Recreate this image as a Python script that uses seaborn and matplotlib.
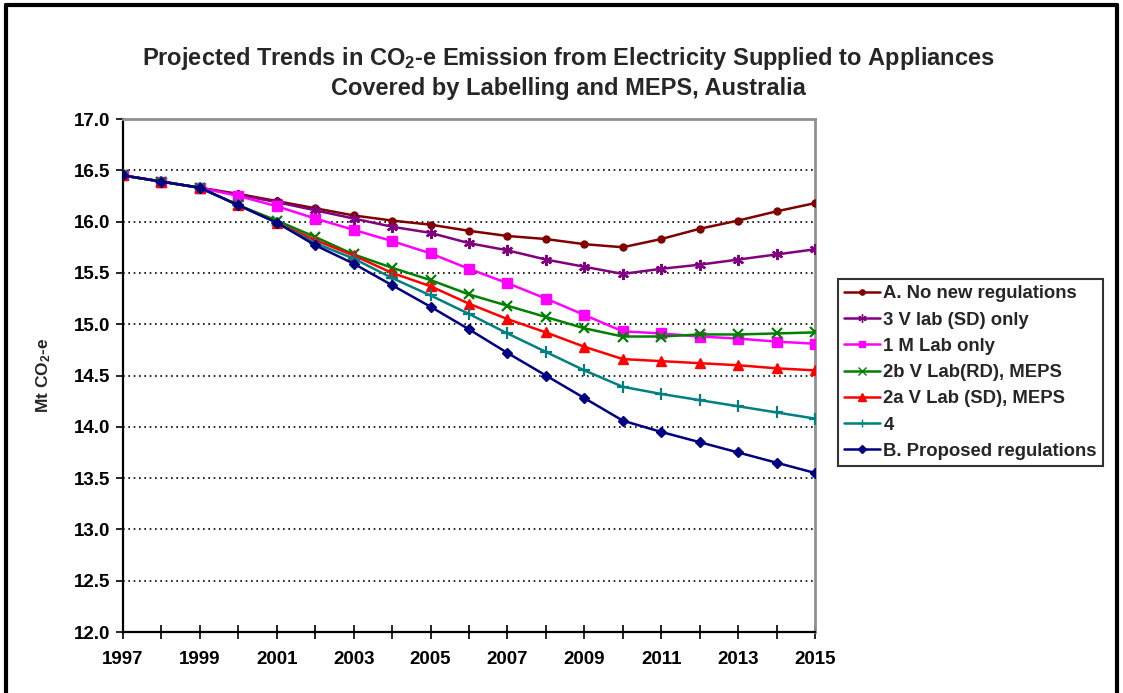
import matplotlib
matplotlib.use("Agg")
import matplotlib.pyplot as plt
from matplotlib.lines import Line2D
import seaborn as sns
import pandas as pd

# Projected emissions, Mt CO2-e, 1997-2015
years = list(range(1997, 2016))

no_new_regs = [16.45, 16.39, 16.33, 16.27, 16.20, 16.13, 16.06, 16.01, 15.97, 15.91,
               15.86, 15.83, 15.78, 15.75, 15.83, 15.93, 16.01, 16.10, 16.18]
v_lab_sd_only = [16.45, 16.39, 16.33, 16.26, 16.19, 16.11, 16.03, 15.95, 15.89, 15.79,
                 15.72, 15.63, 15.56, 15.49, 15.54, 15.58, 15.63, 15.68, 15.73]
m_lab_only = [16.45, 16.39, 16.33, 16.25, 16.15, 16.03, 15.92, 15.81, 15.69, 15.54,
              15.40, 15.25, 15.09, 14.93, 14.91, 14.88, 14.86, 14.83, 14.81]
v_lab_rd_meps = [16.45, 16.39, 16.33, 16.16, 16.01, 15.85, 15.68, 15.55, 15.43, 15.29,
                 15.18, 15.07, 14.96, 14.88, 14.88, 14.90, 14.90, 14.91, 14.92]
v_lab_sd_meps = [16.45, 16.39, 16.33, 16.16, 15.99, 15.82, 15.67, 15.50, 15.37, 15.20,
                 15.05, 14.92, 14.78, 14.66, 14.64, 14.62, 14.60, 14.57, 14.55]
scenario_4 = [16.45, 16.39, 16.33, 16.16, 15.99, 15.79, 15.64, 15.45, 15.28, 15.10,
              14.91, 14.73, 14.55, 14.39, 14.32, 14.26, 14.20, 14.14, 14.08]
proposed_regs = [16.45, 16.39, 16.33, 16.16, 15.99, 15.77, 15.59, 15.38, 15.17, 14.95,
                 14.72, 14.50, 14.28, 14.06, 13.95, 13.85, 13.75, 13.65, 13.55]

series_names = ["A. No new regulations", "3 V lab (SD) only", "1 M Lab only",
                "2b V Lab(RD), MEPS", "2a V Lab (SD), MEPS", "4",
                "B. Proposed regulations"]
series_values = [no_new_regs, v_lab_sd_only, m_lab_only, v_lab_rd_meps,
                 v_lab_sd_meps, scenario_4, proposed_regs]

y_ticks = [12.0, 12.5, 13.0, 13.5, 14.0, 14.5, 15.0, 15.5, 16.0, 16.5, 17.0]

colors = ["#800000", "#800080", "#FF00FF", "#008000", "#FF0000", "#008080", "#000080"]
markers = ["o", (6, 2, 0), "s", "x", "^", "+", "D"]
msizes = [5, 8, 6.5, 7, 7, 8, 5.5]

sns.set_style("white")
plt.rcParams["font.family"] = ["Liberation Sans", "DejaVu Sans"]
plt.rcParams["font.weight"] = "bold"
plt.rcParams["mathtext.default"] = "regular"

fig = plt.figure(figsize=(11.23, 6.93), dpi=100)
ax = fig.add_axes([123 / 1123, 1 - 632 / 693, (815 - 123) / 1123, (632 - 119) / 693])

df = pd.DataFrame({"year": years})
for name, vals in zip(series_names, series_values):
    df[name] = vals

handles = []
for name, col, mk, ms in zip(series_names, colors, markers, msizes):
    sns.lineplot(data=df, x="year", y=name, ax=ax, color=col, linewidth=1.8,
                 marker=mk, markersize=ms, markeredgecolor=col, markerfacecolor=col,
                 markeredgewidth=1.6 if mk in ("x", "+", (6, 2, 0)) else 1.0,
                 zorder=3)
    handles.append(Line2D([0], [0], color=col, lw=1.8, marker=mk,
                          markersize=ms * 0.75, markeredgecolor=col,
                          markerfacecolor=col, label=name))

ax.set_xlim(1997, 2015)
ax.set_ylim(12.0, 17.0)
ax.set_xticks(years)
ax.set_xticklabels([str(y) if (y - 1997) % 2 == 0 else "" for y in years])
ax.set_yticks(y_ticks)
ax.set_yticklabels([f"{v:.1f}" for v in y_ticks])
ax.set_xlabel("")
ax.set_ylabel("Mt CO$_2$-e", fontsize=12.5, fontweight="bold")
ax.yaxis.set_label_coords((53 - 123) / 692, 0.5)

ax.tick_params(axis="x", direction="inout", length=10, width=1.2, colors="black",
               labelsize=13.5, pad=9, bottom=True)
ax.tick_params(axis="y", direction="out", length=5, width=1.2, colors="black",
               labelsize=13.5, pad=4, left=True)
for lab in ax.get_xticklabels() + ax.get_yticklabels():
    lab.set_fontweight("bold")

ax.yaxis.grid(True, linestyle=(0, (1, 2.2)), color="black", linewidth=1.2, zorder=0)
ax.xaxis.grid(False)
ax.set_axisbelow(True)

ax.spines["left"].set_color("black")
ax.spines["left"].set_linewidth(1.6)
ax.spines["bottom"].set_color("black")
ax.spines["bottom"].set_linewidth(1.6)
for s in ("top", "right"):
    ax.spines[s].set_visible(True)
    ax.spines[s].set_color("#909090")
    ax.spines[s].set_linewidth(2.0)

title_x = 0.5 * (140 + 997) / 1123
fig.text(title_x, 1 - 58 / 693,
         "Projected Trends in CO$_2$-e Emission from Electricity Supplied to Appliances",
         ha="center", va="center", fontsize=17, fontweight="bold")
fig.text(title_x, 1 - 89 / 693,
         "Covered by Labelling and MEPS, Australia",
         ha="center", va="center", fontsize=17, fontweight="bold")

leg = fig.legend(handles=handles, loc="upper left",
                 bbox_to_anchor=(838 / 1123, 1 - 279 / 693),
                 frameon=True, fancybox=False, shadow=False,
                 handlelength=1.9, handletextpad=0.2, labelspacing=0.5,
                 borderpad=0.35, borderaxespad=0.0, prop={"weight": "bold", "size": 13.3})
leg.get_frame().set_edgecolor("black")
leg.get_frame().set_linewidth(1.5)

# outer border of the chart area
border_kw = dict(color="black", linewidth=3.0, transform=fig.transFigure, clip_on=False)
fig.add_artist(Line2D([6 / 1123, 6 / 1123], [0, 1 - 5 / 693], **border_kw))
fig.add_artist(Line2D([6 / 1123, 1117 / 1123], [1 - 5 / 693, 1 - 5 / 693], **border_kw))
fig.add_artist(Line2D([1117 / 1123, 1117 / 1123], [0, 1 - 5 / 693], **border_kw))

fig.savefig("out.png", dpi=100)
